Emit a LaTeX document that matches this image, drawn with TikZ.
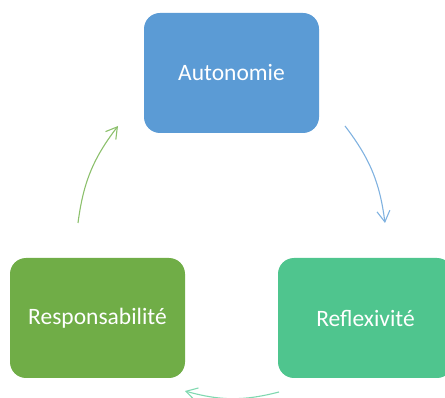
\documentclass[tikz,border=0pt]{standalone}
\usepackage{fontspec}
\setmainfont{Carlito}
\usetikzlibrary{arrows.meta}
\definecolor{cblue}{RGB}{91,155,213}
\definecolor{cgreen}{RGB}{112,173,71}
\definecolor{cteal}{RGB}{79,197,142}
\definecolor{ablue}{RGB}{128,178,224}
\definecolor{agreen}{RGB}{140,192,108}
\definecolor{ateal}{RGB}{128,216,176}
\tikzset{
  box/.style={rectangle, rounded corners=16pt, minimum width=175pt, minimum height=120pt, inner sep=0pt, text=white, font=\fontsize{23.5}{28}\selectfont},
  cyc/.style={line width=1.1pt, -{Straight Barb[length=11pt,width=13pt,line width=1.1pt]}, bend left=15}
}
\begin{document}
\begin{tikzpicture}[x=1pt,y=-1pt]
\useasboundingbox (0,0) rectangle (445,398);
\clip (0,0) rectangle (445,398);
\node[box, fill=cblue] (auto) at (231.5,73) {Autonomie};
\node[box, fill=cgreen] (resp) at (97.5,318) {Responsabilité};
\node[box, fill=cteal] (refl) at (365.5,318) {Reflexivité};
\coordinate (b1) at (345,126);
\coordinate (b2) at (385,223);
\coordinate (g1) at (78,223);
\coordinate (g2) at (118,126);
\coordinate (t1) at (279,392);
\coordinate (t2) at (185,391);
\draw[cyc, ablue] (b1) to (b2);
\draw[cyc, agreen] (g1) to (g2);
\draw[cyc, ateal] (t1) to (t2);
\end{tikzpicture}
\end{document}
